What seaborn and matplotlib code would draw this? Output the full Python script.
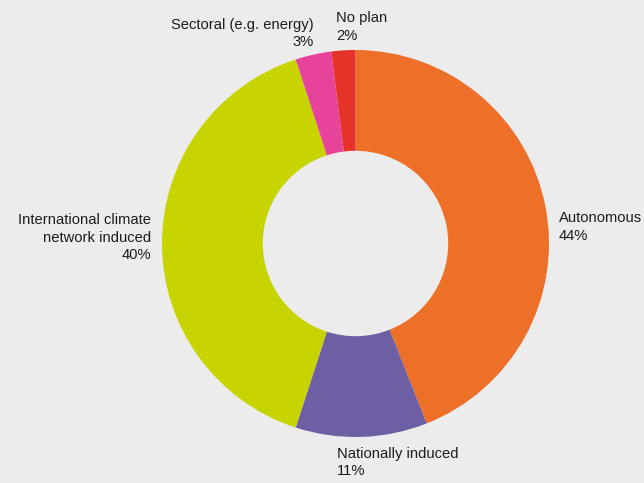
import matplotlib
matplotlib.use("Agg")
import matplotlib.pyplot as plt
import seaborn as sns

# Share of adaptation plans by origin
categories = ["Autonomous", "Nationally induced", "International climate\nnetwork induced",
              "Sectoral (e.g. energy)", "No plan"]
shares = [44, 11, 40, 3, 2]
colors = ["#ed6f28", "#6e5ea4", "#c8d400", "#e8439a", "#e5332a"]

sns.set_theme(style="white")
plt.rcParams["font.family"] = ["Liberation Sans", "DejaVu Sans"]

BG = "#ececec"
W, H, DPI = 644, 483, 100
fig = plt.figure(figsize=(W / DPI, H / DPI), dpi=DPI, facecolor=BG)
ax = fig.add_axes([0, 0, 1, 1])
ax.set_facecolor(BG)

# ring geometry in pixels
cx, cy, r_out, r_in = 355.5, 243.5, 193.5, 92.7
ax.pie(shares, colors=colors, startangle=90, counterclock=False,
       radius=1.0, wedgeprops=dict(width=1 - r_in / r_out, linewidth=0))
ax.set_xlim(-cx / r_out, (W - cx) / r_out)
ax.set_ylim(-(H - cy) / r_out, cy / r_out)
ax.set_aspect("equal")
ax.axis("off")

# label anchors (x px, block-center y px, horizontal alignment)
anchors = [(559, 227, "left"), (337, 462.5, "left"), (151, 237.5, "right"),
           (314, 33.5, "right"), (336, 27, "left")]
for name, val, (x, y, ha) in zip(categories, shares, anchors):
    fig.text(x / W, 1 - y / H, f"{name}\n{val}%", ha=ha, va="center",
             multialignment=ha, fontsize=10.6, color="#1e1b1c", linespacing=1.3)

fig.savefig("out.png", dpi=DPI, facecolor=BG)
